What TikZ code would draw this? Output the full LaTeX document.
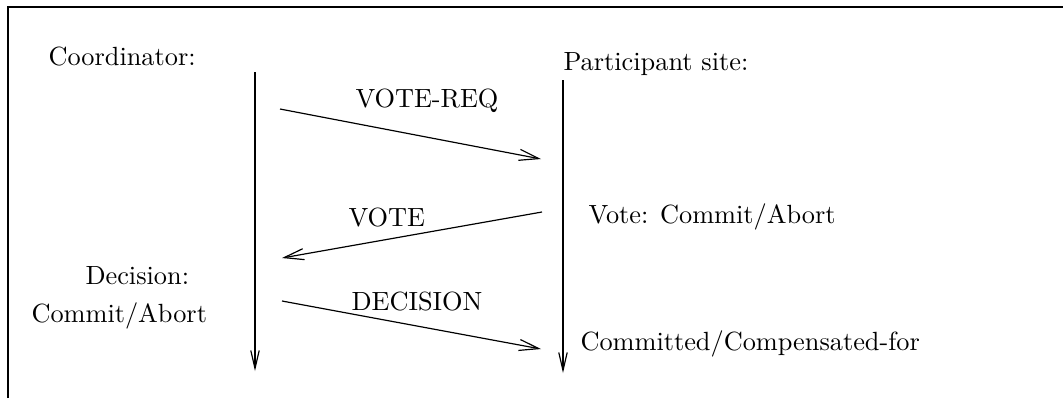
\documentclass[tikz,border=0pt]{standalone}
\usepackage{tikz}
\usetikzlibrary{arrows.meta,positioning}
\tikzset{
  lbl/.style={inner sep=0pt, anchor=base west},
  msg/.style={-{Straight Barb[length=7.5pt,width=4.2pt]}, line width=0.45pt},
  life/.style={-{Straight Barb[length=6.8pt,width=3.2pt]}, line width=0.45pt},
  frame/.style={line width=0.6pt}
}

\begin{document}
\begin{tikzpicture}[x=0.38pt, y=-0.38pt]
  \useasboundingbox (0,0) rectangle (1063,398);
  % open frame
  \draw[frame] (8,398) -- (8,7) -- (1063,7);

  % headings
  \node[lbl] (coord) at (48,65) {Coordinator:};
  \node[lbl] (part) at (563,70) {Participant site:};

  % time lines
  \coordinate (coordTop) at (255,72);
  \coordinate (coordEnd) at (255,371);
  \coordinate (partTop) at (563,80);
  \coordinate (partEnd) at (563,373);
  \draw[life] (coordTop) -- (coordEnd);
  \draw[life] (partTop) -- (partEnd);

  % messages
  \coordinate (reqFrom) at (280,109);
  \coordinate (reqTo) at (541,159);
  \coordinate (voteFrom) at (542,212);
  \coordinate (voteTo) at (282,258);
  \coordinate (decFrom) at (282,301);
  \coordinate (decTo) at (541,349);
  \draw[msg] (reqFrom) -- (reqTo);
  \draw[msg] (voteFrom) -- (voteTo);
  \draw[msg] (decFrom) -- (decTo);
  \node[lbl] (reqLbl) at (355,107) {VOTE-REQ};
  \node[lbl] (voteLbl) at (348,226) {VOTE};
  \node[lbl] (decLbl) at (351,310) {DECISION};

  % states
  \node[lbl] (decision) at (85,284) {Decision:};
  \node[lbl] (decValue) at (31,322) {Commit/Abort};
  \node[lbl] (vote) at (588,223) {Vote: Commit/Abort};
  \node[lbl] (final) at (580,350) {Committed/Compensated-for};
\end{tikzpicture}
\end{document}
